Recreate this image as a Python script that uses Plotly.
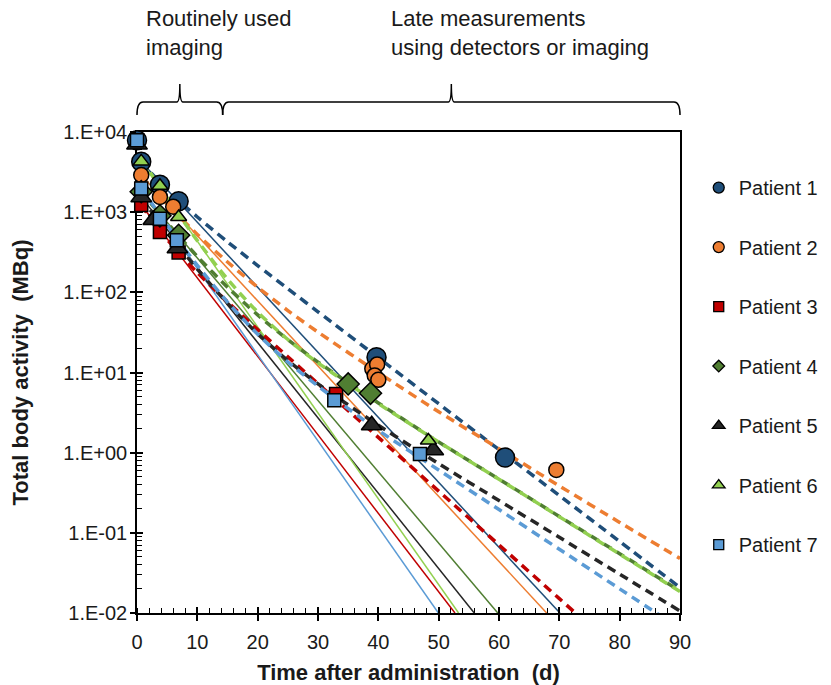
import plotly.graph_objects as go

FONT = "Liberation Sans, Arial, sans-serif"
TXT = "#1a1a1a"

# ---------------- data ----------------
names = ["Patient 1", "Patient 2", "Patient 3", "Patient 4", "Patient 5", "Patient 6", "Patient 7"]
colors = ["#1F4E79", "#ED7D31", "#C00000", "#507E32", "#262626", "#92D050", "#5B9BD5"]
symbols = ["circle", "circle", "square", "diamond", "triangle-up", "triangle-up", "square"]

# measured total body activity (days, MBq)
p1_t = [0, 0.7, 3.8, 6.9, 39.7, 61.0]
p1_a = [7900, 4250, 2200, 1370, 15.5, 0.87]
p2_t = [0.7, 3.8, 6.0, 39.0, 39.8, 39.4, 40.0, 69.5]
p2_a = [2900, 1550, 1170, 11.1, 12.6, 9.2, 8.1, 0.61]
p3_t = [0.7, 3.8, 6.9, 33.0]
p3_a = [1230, 565, 315, 5.4]
p4_t = [0.7, 3.8, 6.9, 35.0, 38.7]
p4_a = [1800, 900, 515, 7.2, 5.5]
p5_t = [0, 0.7, 2.7, 6.7, 38.9, 49.1]
p5_a = [7000, 1540, 800, 355, 2.2, 1.07]
p6_t = [0.7, 3.8, 6.9, 48.3]
p6_a = [4300, 2140, 870, 1.42]
p7_t = [0, 0.7, 3.8, 6.6, 32.7, 46.9]
p7_a = [7900, 1980, 830, 445, 4.5, 0.96]

# fits to routinely used imaging only (solid): start / end
p1_fit_t = [0.7, 70.1]
p1_fit_a = [4250, 0.01]
p2_fit_t = [0.7, 67.9]
p2_fit_a = [2900, 0.01]
p3_fit_t = [0.7, 52.7]
p3_fit_a = [1230, 0.01]
p4_fit_t = [0.7, 59.8]
p4_fit_a = [1800, 0.01]
p5_fit_t = [0.7, 55.9]
p5_fit_a = [1540, 0.01]
p6_fit_t = [0.7, 53.3]
p6_fit_a = [4300, 0.01]
p7_fit_t = [0.7, 49.95]
p7_fit_a = [1980, 0.01]

late_fit_t = [0.7, 2, 4, 7, 10, 15, 20, 25, 30, 40, 50, 60, 70, 80, 90]
p1_late_a = [4250, 3290, 2280, 1380, 871, 427, 216, 111, 57.2, 15.3, 4.08, 1.09, 0.292, 0.078, 0.0208]
p2_late_a = [2800, 2190, 1510, 883, 528, 239, 116, 59.3, 31.9, 9.97, 3.24, 1.12, 0.385, 0.135, 0.048]
p3_late_a = [1230, 893, 565, 306, 176, 76, 34.3, 15.7, 7.24, 1.55, 0.331, 0.0708, 0.0151, 0.0032, 0.0007]
p4_late_a = [1794, 1367, 905, 497, 280, 116, 52.3, 25.7, 13.5, 4.17, 1.36, 0.468, 0.160, 0.055, 0.0188]
p5_late_a = [1500, 1116, 711, 368, 195, 73, 30.4, 14.1, 7.2, 2.2, 0.728, 0.253, 0.0879, 0.0305, 0.0106]
p6_late_a = [4400, 3270, 1948, 914, 442, 146, 56.7, 25.8, 13.2, 4.09, 1.36, 0.466, 0.159, 0.0542, 0.0185]
p7_late_a = [1980, 1434, 879, 430, 217, 75.7, 30, 13.5, 6.77, 1.9, 0.608, 0.195, 0.0625, 0.02, 0.0064]

y_tickvals = [0.01, 0.1, 1, 10, 100, 1000, 10000]
y_ticktext = ["1.E-02", "1.E-01", "1.E+00", "1.E+01", "1.E+02", "1.E+03", "1.E+04"]

phase_edges = [0, 14.2, 90]
phase_labels = ["Routinely used<br>imaging", "Late measurements<br>using detectors or imaging"]

meas = [(p1_t, p1_a), (p2_t, p2_a), (p3_t, p3_a), (p4_t, p4_a), (p5_t, p5_a), (p6_t, p6_a), (p7_t, p7_a)]
fits = [(p1_fit_t, p1_fit_a), (p2_fit_t, p2_fit_a), (p3_fit_t, p3_fit_a), (p4_fit_t, p4_fit_a),
        (p5_fit_t, p5_fit_a), (p6_fit_t, p6_fit_a), (p7_fit_t, p7_fit_a)]
lates = [p1_late_a, p2_late_a, p3_late_a, p4_late_a, p5_late_a, p6_late_a, p7_late_a]

# ---------------- style ----------------
marker_sizes = [19, 15, 13, 17, 18, 14, 13]
legend_sizes = [11, 11, 10, 9, 11, 11, 10]

W, H = 831, 685
ML, MT, PW, PH = 137, 132, 543, 481
MR, MB = W - ML - PW, H - MT - PH
XMAX = 90.0

fig = go.Figure()

for i in range(7):
    ft, fa = fits[i]
    fig.add_trace(go.Scatter(x=ft, y=fa, mode="lines", line=dict(color=colors[i], width=1.5),
                             showlegend=False, hoverinfo="skip"))
for i in range(7):
    fig.add_trace(go.Scatter(x=late_fit_t, y=lates[i], mode="lines",
                             line=dict(color=colors[i], width=3.5, dash="9px,6px", shape="spline", smoothing=0.8),
                             showlegend=False, hoverinfo="skip"))
for i in range(7):
    t, a = meas[i]
    fig.add_trace(go.Scatter(x=t, y=a, mode="markers", cliponaxis=False,
                             marker=dict(symbol=symbols[i], size=marker_sizes[i], color=colors[i],
                                         line=dict(color="black", width=1.5)),
                             showlegend=False, name=names[i]))
for i in range(7):
    fig.add_trace(go.Scatter(x=[None], y=[None], mode="markers", name=names[i], legendgroup=names[i],
                             marker=dict(symbol=symbols[i], size=legend_sizes[i], color=colors[i],
                                         line=dict(color="black", width=1.3))))
# carrier for the overlaid tick-only axes
fig.add_trace(go.Scatter(x=[None], y=[None], xaxis="x2", yaxis="y2", showlegend=False, hoverinfo="skip"))


# braces above the plot (positions given in page pixels)
def yp(py):
    return (MT + PH - py) / PH


def xp(t):
    return t / XMAX


r = 6 / PW
c = 3 / PW
ye, yb, ypk = yp(115), yp(102), yp(84)
shapes = []
anns = []
for k in range(len(phase_edges) - 1):
    x0, x1 = xp(phase_edges[k]), xp(phase_edges[k + 1])
    xm = (x0 + x1) / 2
    path = (f"M {x0},{ye} Q {x0},{yb} {x0 + r},{yb} L {xm - c},{yb} Q {xm},{yb} {xm},{ypk} "
            f"Q {xm},{yb} {xm + c},{yb} L {x1 - r},{yb} Q {x1},{yb} {x1},{ye}")
    shapes.append(dict(type="path", xref="paper", yref="paper", path=path,
                       line=dict(color="black", width=1.5)))

anns.append(dict(x=(144 - ML) / PW, y=yp(4), xref="paper", yref="paper", xanchor="left", yanchor="top",
                 align="left", showarrow=False, text=phase_labels[0], font=dict(size=22, color=TXT)))
anns.append(dict(x=(389 - ML) / PW, y=yp(4), xref="paper", yref="paper", xanchor="left", yanchor="top",
                 align="left", showarrow=False, text=phase_labels[1], font=dict(size=22, color=TXT)))

axis_common = dict(showgrid=False, zeroline=False, linecolor="black", linewidth=1.5,
                   tickcolor="black", tickwidth=1.5)

fig.update_layout(
    width=W, height=H,
    margin=dict(l=ML, r=MR, t=MT, b=MB, autoexpand=False),
    plot_bgcolor="white", paper_bgcolor="white",
    font=dict(family=FONT, size=20, color=TXT),
    hovermode=False,
    legend=dict(x=1.0345, xanchor="left", y=0.925, yanchor="top", font=dict(size=20, color=TXT),
                tracegroupgap=30.5, bgcolor="rgba(0,0,0,0)", itemsizing="trace"),
    xaxis=dict(range=[0, XMAX], tick0=0, dtick=10, showline=True, mirror=True, ticks="outside", ticklen=6,
               ticklabelstandoff=4,
               minor=dict(ticks="inside", dtick=2, ticklen=5, tickwidth=1.2, tickcolor="black", showgrid=False),
               title=dict(text="<b>Time after administration\u00a0 (d)</b>", font=dict(size=22, color=TXT), standoff=14),
               layer="below traces", tickfont=dict(size=20, color=TXT), **axis_common),
    xaxis2=dict(overlaying="x", range=[0, XMAX], tick0=0, dtick=10, ticks="inside", ticklen=6,
                showticklabels=False, showline=False, **axis_common),
    yaxis=dict(type="log", range=[-2, 4], tickvals=y_tickvals, ticktext=y_ticktext, showline=True, mirror=True,
               ticks="inside", ticklen=6, ticklabelstandoff=4,
               minor=dict(ticks="inside", dtick="D1", ticklen=5, tickwidth=1.2, tickcolor="black", showgrid=False),
               title=dict(text="<b>Total body activity\u00a0 (MBq)</b>", font=dict(size=22, color=TXT), standoff=29),
               layer="below traces", tickfont=dict(size=20, color=TXT), **axis_common),
    yaxis2=dict(type="log", overlaying="y", range=[-2, 4], tickvals=y_tickvals, ticks="outside", ticklen=6,
                showticklabels=False, showline=False, **axis_common),
    shapes=shapes,
    annotations=anns,
)

fig.write_html("out.html", config={"displayModeBar": False},
               post_script="document.body.style.margin='0px';")
